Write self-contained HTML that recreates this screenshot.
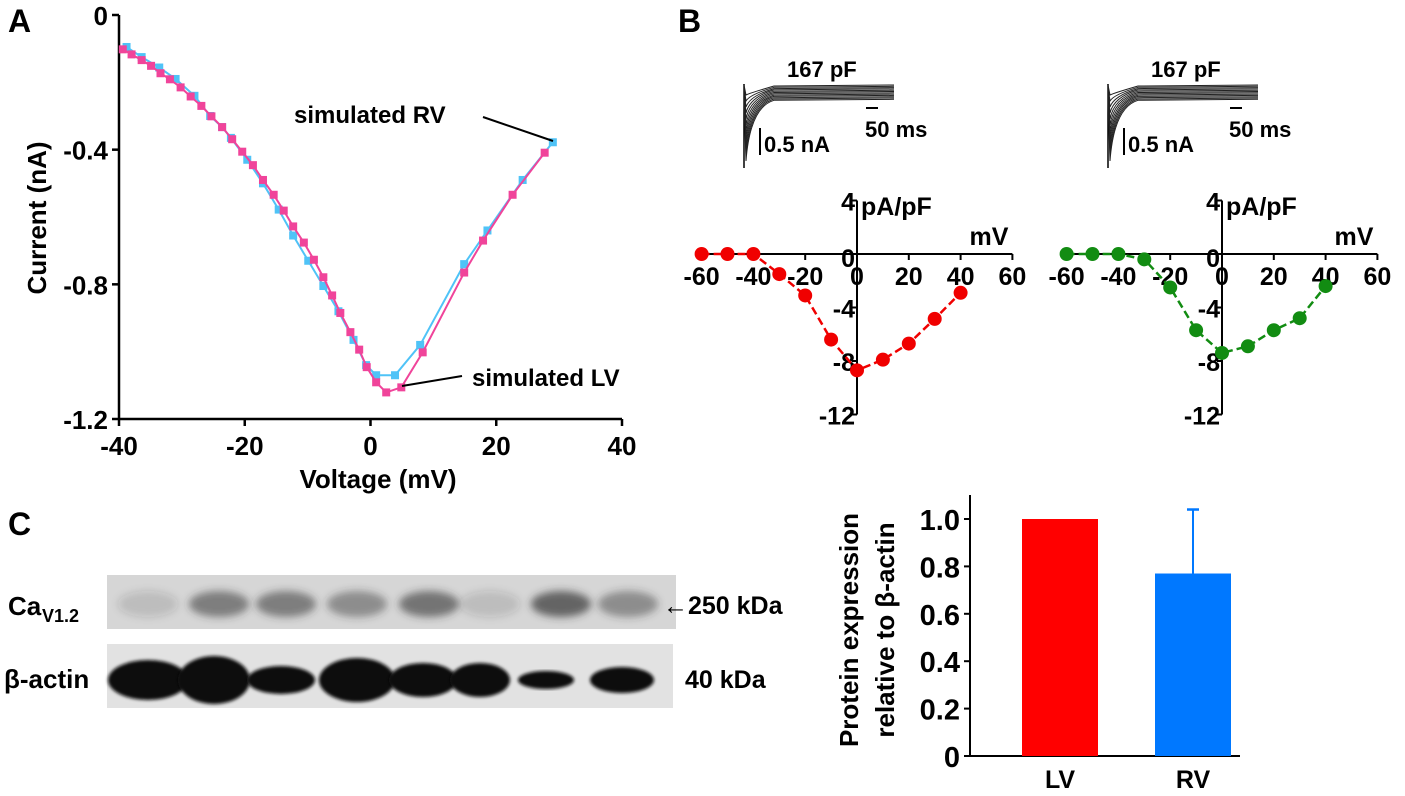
<!DOCTYPE html>
<html><head><meta charset="utf-8"><style>
html,body{margin:0;padding:0;background:#fff}
svg{display:block}
text{font-family:"Liberation Sans",sans-serif;font-weight:bold;fill:#000}
</style></head><body>
<svg id="fig" width="1405" height="796" viewBox="0 0 1405 796" xmlns="http://www.w3.org/2000/svg">
<defs>
<filter id="blur3" x="-30%" y="-60%" width="160%" height="220%"><feGaussianBlur stdDeviation="4"/></filter>
<filter id="blur1"><feGaussianBlur stdDeviation="1.5"/></filter>
</defs>
<text x="8" y="32" font-size="32">A</text>
<text x="678" y="32" font-size="32">B</text>
<text x="8" y="535" font-size="32">C</text>
<g id="panelA"></g>
<g id="panelB"></g>
<g id="traces"></g>
<g id="blot"></g>
<g id="bars"></g>
</svg>
<script>
// ---- Panel A data ----
const lvV=[-39.4,-38,-36.4,-34.9,-33.4,-31.9,-30.2,-28.6,-26.9,-25.3,-23.6,-22,-20.4,-18.7,-17.1,-15.4,-13.8,-12.3,-10.6,-9,-7.5,-6.1,-4.8,-3.2,-1.8,-0.6,0.9,2.5,4.9,8.3,14.9,17.9,22.6,27.7];
const lvI=[-0.102,-0.117,-0.134,-0.151,-0.173,-0.191,-0.215,-0.242,-0.27,-0.301,-0.333,-0.369,-0.406,-0.446,-0.49,-0.534,-0.581,-0.628,-0.676,-0.727,-0.779,-0.833,-0.885,-0.942,-0.994,-1.046,-1.091,-1.121,-1.106,-1.002,-0.765,-0.67,-0.534,-0.409];
const rvV=[-38.8,-36.4,-33.6,-31,-28,-25.5,-23.6,-22.2,-19.6,-17.1,-14.6,-12.3,-9.9,-7.5,-5.1,-2.7,-0.7,0.9,3.9,7.9,14.9,18.6,24.2,29.0];
const rvI=[-0.095,-0.125,-0.156,-0.19,-0.24,-0.3,-0.333,-0.365,-0.43,-0.5,-0.578,-0.655,-0.73,-0.805,-0.88,-0.965,-1.04,-1.07,-1.07,-0.98,-0.74,-0.64,-0.49,-0.378];
const aXTicks=[-40,-20,0,20,40];
const aYTicks=[0,-0.4,-0.8,-1.2];
const aYLabels=["0","-0.4","-0.8","-1.2"];
// ---- Panel B data ----
const ivV=[-60,-50,-40,-30,-20,-10,0,10,20,30,40];
const lvDensity=[0,0,0,-1.5,-3.1,-6.4,-8.7,-7.9,-6.7,-4.85,-2.9];
const rvDensity=[0,0,0,-0.4,-2.5,-5.7,-7.4,-6.9,-5.7,-4.8,-2.4];
const bXTicks=[-60,-40,-20,0,20,40,60];
const bYTicks=[4,-4,-8,-12];
// ---- Panel C data ----
const barCats=["LV","RV"];
const barVals=[1.0,0.77];
const barErr=[0,0.27];
const barYTicks=[0,0.2,0.4,0.6,0.8,1.0];
const barYLabels=["0","0.2","0.4","0.6","0.8","1.0"];

const NS="http://www.w3.org/2000/svg";
function mk(parent,tag,attrs){const e=document.createElementNS(NS,tag);for(const k in attrs)e.setAttribute(k,attrs[k]);parent.appendChild(e);return e;}
function txt(parent,x,y,s,size,anchor){const t=mk(parent,'text',{x:x,y:y,'font-size':size,'text-anchor':anchor||'start'});t.textContent=s;return t;}

// ---- Panel A ----
(function(){
const g=document.getElementById('panelA');
const xs=v=>119+(v+40)/80*503, ys=i=>15+(-i)/1.2*404;
let l=mk(g,'line',{x1:119,y1:15,x2:119,y2:419,stroke:'#000','stroke-width':2.5});

l=mk(g,'line',{x1:119,y1:419,x2:622,y2:419,stroke:'#000','stroke-width':2.5});

aYTicks.forEach((v,k)=>{mk(g,'line',{x1:112,y1:ys(v),x2:119,y2:ys(v),stroke:'#000','stroke-width':2.5});
 const t=txt(g,108,ys(v)+10,aYLabels[k],26,'end');});
aXTicks.forEach(v=>{mk(g,'line',{x1:xs(v),y1:419,x2:xs(v),y2:426,stroke:'#000','stroke-width':2.5});
 const t=txt(g,xs(v),455,String(v),26,'middle');});
let t=txt(g,378,488,'Voltage (mV)',26,'middle');
t=txt(g,0,0,'Current (nA)',26,'middle');t.setAttribute('transform','translate(46,218) rotate(-90)');

function series(V,I,col,name){
 const p=mk(g,'polyline',{points:V.map((v,k)=>xs(v)+','+ys(I[k])).join(' '),fill:'none',stroke:col,'stroke-width':2});
 
 V.forEach((v,k)=>{const r=mk(g,'rect',{x:xs(v)-4,y:ys(I[k])-4,width:8,height:8,fill:col});
  });
}
series(rvV,rvI,'#4fc3f7','rv');
series(lvV,lvI,'#f0449a','lv');
mk(g,'line',{x1:483,y1:117,x2:553,y2:141,stroke:'#000','stroke-width':2});
t=txt(g,294,123,'simulated RV',24);
mk(g,'line',{x1:402,y1:386,x2:462,y2:376,stroke:'#000','stroke-width':2});
t=txt(g,472,386,'simulated LV',24);
})();

// ---- Panel B ----
(function(){
const g=document.getElementById('panelB');
function ivPlot(ox,vals,col,name){
 const xs=v=>ox+v/20*51.8, ys=d=>254-d/4*53.5;
 let l=mk(g,'line',{x1:xs(-60),y1:254,x2:xs(60),y2:254,stroke:'#000','stroke-width':2});
 
 l=mk(g,'line',{x1:ox,y1:ys(4),x2:ox,y2:ys(-12),stroke:'#000','stroke-width':2});
 
 bXTicks.forEach(v=>{mk(g,'line',{x1:xs(v),y1:254,x2:xs(v),y2:260,stroke:'#000','stroke-width':2});
  const t=txt(g,xs(v),285,String(v),25,'middle');});
 bYTicks.forEach(v=>{mk(g,'line',{x1:ox-5,y1:ys(v),x2:ox,y2:ys(v),stroke:'#000','stroke-width':2});
  const t=txt(g,ox-2,ys(v)+10,String(v),25,'end');});
 let t=txt(g,ox-2,267,'0',25,'end');
 t=txt(g,ox+4,215,'pA/pF',25);
 t=txt(g,xs(60)-4,245,'mV',25,'end');
 const p=mk(g,'polyline',{points:ivV.map((v,k)=>xs(v)+','+ys(vals[k])).join(' '),fill:'none',stroke:col,'stroke-width':2.5,'stroke-dasharray':'8,4'});
 
 ivV.forEach((v,k)=>{const c=mk(g,'circle',{cx:xs(v),cy:ys(vals[k]),r:7,fill:col});
  });
}
ivPlot(857,lvDensity,'#f00000','lv-iv');
ivPlot(1222,rvDensity,'#128c12','rv-iv');
})();

// ---- traces (decorative) ----
(function(){
const g=document.getElementById('traces');
function trace(x0,name){
 const tg=mk(g,'g',{});
 mk(tg,'line',{x1:x0,y1:84,x2:x0,y2:168,stroke:'#000','stroke-width':1.5});
 for(let k=0;k<12;k++){
  const yb=85+k*1.3, depth=95+k*6;
  mk(tg,'path',{d:`M${x0} ${yb} L${x0+2} ${Math.min(depth,166)} Q${x0+6} ${yb+8} ${x0+30} ${yb+1} L${x0+150} ${yb}`,fill:'none',stroke:'#222','stroke-width':1});
 }
 txt(tg,x0+43,77,'167 pF',22);
 mk(tg,'line',{x1:x0+16,y1:128,x2:x0+16,y2:155,stroke:'#000','stroke-width':2});
 txt(tg,x0+20,152,'0.5 nA',22);
 mk(tg,'line',{x1:x0+122,y1:108,x2:x0+134,y2:108,stroke:'#000','stroke-width':2});
 txt(tg,x0+121,137,'50 ms',22);
}
trace(744,'lv-current-traces');
trace(1108,'rv-current-traces');
})();

// ---- Western blot (decorative image) ----
(function(){
const g=document.getElementById('blot');
mk(g,'rect',{x:107,y:575,width:569,height:54,fill:'#d6d6d6'});
mk(g,'rect',{x:107,y:644,width:566,height:64,fill:'#e2e2e2'});
const topB=[[148,.15],[219,.55],[286,.55],[357,.45],[429,.6],[490,.15],[561,.7],[628,.45]];
topB.forEach(b=>mk(g,'ellipse',{cx:b[0],cy:604,rx:30,ry:13,fill:'#333','fill-opacity':b[1],filter:'url(#blur3)'}));
const botB=[[148,40,20],[214,36,24],[281,34,14],[357,38,22],[423,34,17],[480,30,17],[546,28,9],[622,32,13]];
botB.forEach(b=>mk(g,'ellipse',{cx:b[0],cy:680,rx:b[1],ry:b[2],fill:'#111',filter:'url(#blur1)'}));
let t=txt(g,8,615,'Ca',26);
t=txt(g,42,622,'V1.2',18);
t=txt(g,663,614,'←250 kDa',25);
t=txt(g,4,688,'β-actin',26);
t=txt(g,685,688,'40 kDa',25);
})();

// ---- Bar chart ----
(function(){
const g=document.getElementById('bars');
const ys=v=>756-v*237, x0=970;
let l=mk(g,'line',{x1:x0,y1:495,x2:x0,y2:757,stroke:'#000','stroke-width':2});

l=mk(g,'line',{x1:x0,y1:756,x2:1240,y2:756,stroke:'#000','stroke-width':2});

barYTicks.forEach((v,k)=>{mk(g,'line',{x1:x0-6,y1:ys(v),x2:x0,y2:ys(v),stroke:'#000','stroke-width':2});
 const t=txt(g,x0-10,ys(v)+11,barYLabels[k],29,'end');});
const cols=['#ff0000','#0078ff'], cx=[1060,1193];
barCats.forEach((c,k)=>{
 const r=mk(g,'rect',{x:cx[k]-38,y:ys(barVals[k]),width:76,height:ys(0)-ys(barVals[k]),fill:cols[k]});
 
 if(barErr[k]>0){mk(g,'line',{x1:cx[k],y1:ys(barVals[k]),x2:cx[k],y2:ys(barVals[k]+barErr[k]),stroke:cols[k],'stroke-width':2});
  mk(g,'line',{x1:cx[k]-6,y1:ys(barVals[k]+barErr[k]),x2:cx[k]+6,y2:ys(barVals[k]+barErr[k]),stroke:cols[k],'stroke-width':2.5});}
 const t=txt(g,cx[k],788,c,25,'middle');
});
let t=txt(g,0,0,'Protein expression',26,'middle');t.setAttribute('transform','translate(858,630) rotate(-90)');

t=txt(g,0,0,'relative to β-actin',26,'middle');t.setAttribute('transform','translate(894,630) rotate(-90)');

})();
</script>
</body></html>
